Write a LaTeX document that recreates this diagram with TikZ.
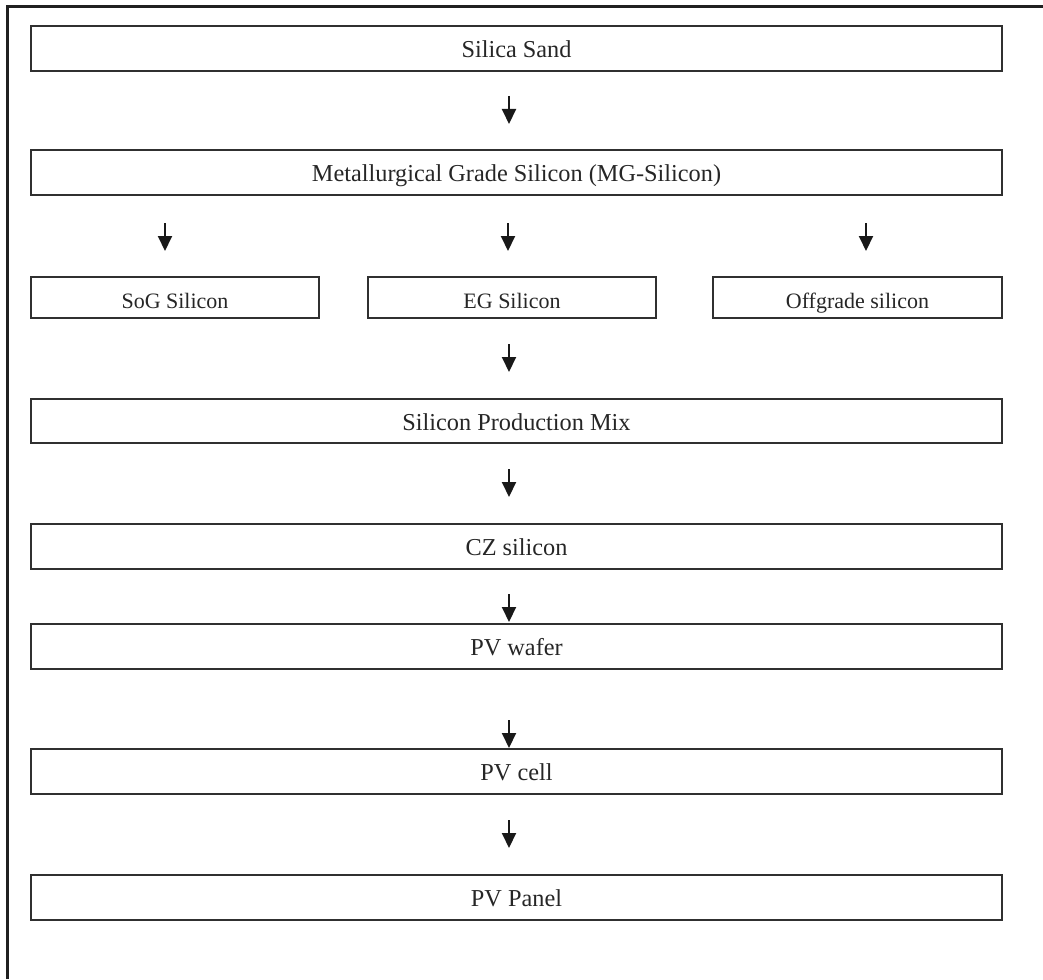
\documentclass[tikz,border=0pt]{standalone}
\usepackage{fontspec}
\setmainfont{Liberation Serif}
\usetikzlibrary{arrows.meta}
\definecolor{boxline}{HTML}{303030}
\definecolor{frameline}{HTML}{202020}
\tikzset{
  bigbox/.style={draw=boxline, line width=2pt, minimum width=971pt, minimum height=45pt,
    inner sep=0pt, font=\fontsize{24.3}{28}\selectfont, text height=20pt, text depth=2pt, text=black!85},
  smallbox/.style={draw=boxline, line width=2pt, minimum width=288pt, minimum height=41pt,
    inner sep=0pt, font=\fontsize{22}{26}\selectfont, text height=22pt, text depth=0pt, text=black!85},
  flow/.style={line width=2pt, draw=black!90, -{Triangle[width=14pt,length=15pt]}},
}
\begin{document}
\begin{tikzpicture}[x=1pt,y=-1pt]
\useasboundingbox (0,0) rectangle (1043,979);
\draw[frameline, line width=3pt] (7,979) -- (7,7) -- (1043,7);

\node[bigbox] (sand) at (516.5,48.5) {Silica Sand};
\node[bigbox] (mg) at (516.5,172.5) {Metallurgical Grade Silicon (MG-Silicon)};
\node[smallbox] (sog) at (175,297.5) {SoG Silicon};
\node[smallbox] (eg) at (512,297.5) {EG Silicon};
\node[smallbox, minimum width=289pt] (off) at (857.5,297.5) {Offgrade silicon};
\node[bigbox, minimum height=44pt] (mix) at (516.5,421) {Silicon Production Mix};
\node[bigbox] (cz) at (516.5,546.5) {CZ silicon};
\node[bigbox] (wafer) at (516.5,646.5) {PV wafer};
\node[bigbox] (cell) at (516.5,771.5) {PV cell};
\node[bigbox] (panel) at (516.5,897.5) {PV Panel};

\draw[flow, shorten <=24pt, shorten >=25pt] (sand.south -| 509,0) -- (mg.north -| 509,0);
\draw[flow, shorten <=27pt, shorten >=25pt] (mg.south -| 165,0) -- (sog.north -| 165,0);
\draw[flow, shorten <=27pt, shorten >=25pt] (mg.south -| 508,0) -- (eg.north -| 508,0);
\draw[flow, shorten <=27pt, shorten >=25pt] (mg.south -| 866,0) -- (off.north -| 866,0);
\draw[flow, shorten <=25pt, shorten >=26pt] (eg.south -| 509,0) -- (mix.north -| 509,0);
\draw[flow, shorten <=25pt, shorten >=26pt] (mix.south -| 509,0) -- (cz.north -| 509,0);
\draw[flow, shorten <=24pt, shorten >=1pt] (cz.south -| 509,0) -- (wafer.north -| 509,0);
\draw[flow, shorten <=50pt, shorten >=0pt] (wafer.south -| 509,0) -- (cell.north -| 509,0);
\draw[flow, shorten <=25pt, shorten >=26pt] (cell.south -| 509,0) -- (panel.north -| 509,0);
\end{tikzpicture}
\end{document}
